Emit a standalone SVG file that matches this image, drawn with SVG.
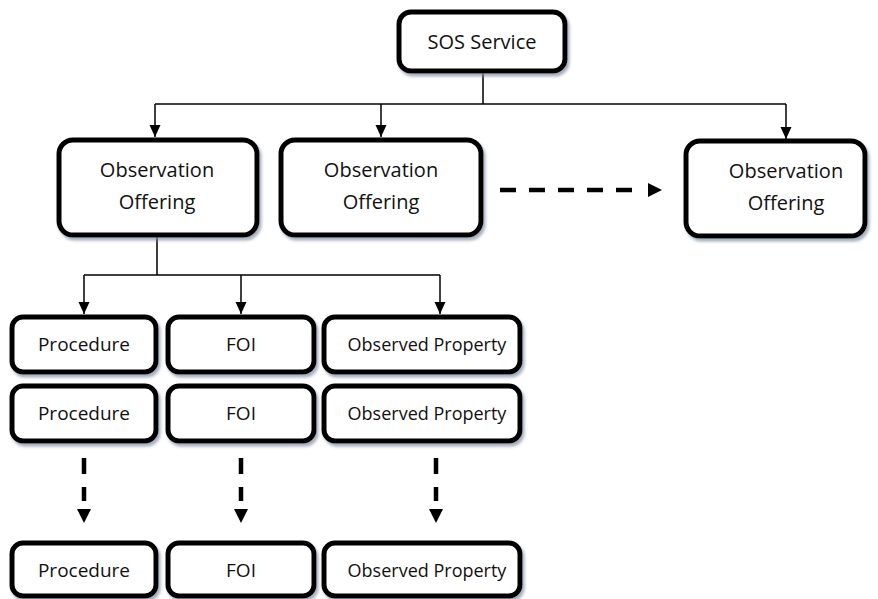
<svg xmlns="http://www.w3.org/2000/svg" width="878" height="599" viewBox="0 0 878 599">
<style>
.box{fill:#fff;stroke:#000;stroke-width:5;filter:url(#sh)}
.t{font-family:"Open Sans","Liberation Sans",sans-serif;font-size:19px;fill:#111;text-anchor:middle}
.big{font-size:20px}
.sm{font-size:18px}
.c{fill:none;stroke:#000;stroke-width:1.5}
.d{fill:none;stroke:#000;stroke-width:4.5;stroke-dasharray:16 13}
</style>
<defs>
<filter id="sh" x="-10%" y="-10%" width="130%" height="140%">
<feDropShadow dx="2" dy="3" stdDeviation="1.5" flood-color="#7d8ba0" flood-opacity="0.7"/>
</filter>
<marker id="a" viewBox="0 -6 12 12" refX="12" refY="0" markerWidth="12" markerHeight="12" markerUnits="userSpaceOnUse" orient="auto">
<path d="M0,-5.5 L12,0 L0,5.5 z" fill="#000"/>
</marker>
<marker id="da" viewBox="0 -8 24 16" refX="0" refY="0" markerWidth="24" markerHeight="16" markerUnits="userSpaceOnUse" orient="auto">
<path d="M8,-7 L22,0 L8,7 z" fill="#000"/>
</marker>
</defs>
<g id="connectors">
<path class="c" d="M483,72 V104 M155,104 H786"/>
<path class="c" marker-end="url(#a)" d="M155,104 V137"/>
<path class="c" marker-end="url(#a)" d="M381,104 V137"/>
<path class="c" marker-end="url(#a)" d="M786,104 V139"/>
<path class="c" d="M157,236 V275 M84,275 H440"/>
<path class="c" marker-end="url(#a)" d="M84,275 V314"/>
<path class="c" marker-end="url(#a)" d="M241,275 V314"/>
<path class="c" marker-end="url(#a)" d="M440,275 V314"/>
<path class="d" marker-end="url(#da)" d="M500,190 H640"/>
<path class="d" marker-end="url(#da)" d="M84,458 V501"/>
<path class="d" marker-end="url(#da)" d="M241,458 V501"/>
<path class="d" marker-end="url(#da)" d="M436,458 V501"/>
</g>
<g id="sos"><rect class="box" x="399" y="12" width="166" height="59" rx="12"/><text class="t big" x="482" y="49">SOS Service</text></g>
<g id="offering1"><rect class="box" x="59" y="140" width="198" height="95" rx="14"/><text class="t big" x="157" y="177">Observation</text><text class="t big" x="157" y="209">Offering</text></g>
<g id="offering2"><rect class="box" x="281" y="140" width="200" height="95" rx="14"/><text class="t big" x="381" y="177">Observation</text><text class="t big" x="381" y="209">Offering</text></g>
<g id="offering3"><rect class="box" x="686" y="141" width="179" height="95" rx="14"/><text class="t big" x="786" y="178">Observation</text><text class="t big" x="786" y="210">Offering</text></g>
<g id="proc1"><rect class="box" x="12" y="317" width="144" height="55" rx="11"/><text class="t" x="84" y="351">Procedure</text></g>
<g id="foi1"><rect class="box" x="168" y="317" width="146" height="55" rx="11"/><text class="t" x="241" y="351">FOI</text></g>
<g id="prop1"><rect class="box" x="324" y="317" width="196" height="55" rx="11"/><text class="t sm" x="427" y="351">Observed Property</text></g>
<g id="proc2"><rect class="box" x="12" y="386" width="144" height="55" rx="11"/><text class="t" x="84" y="420">Procedure</text></g>
<g id="foi2"><rect class="box" x="168" y="386" width="146" height="55" rx="11"/><text class="t" x="241" y="420">FOI</text></g>
<g id="prop2"><rect class="box" x="324" y="386" width="196" height="55" rx="11"/><text class="t sm" x="427" y="420">Observed Property</text></g>
<g id="proc3"><rect class="box" x="12" y="543" width="144" height="53" rx="11"/><text class="t" x="84" y="577">Procedure</text></g>
<g id="foi3"><rect class="box" x="168" y="543" width="146" height="53" rx="11"/><text class="t" x="241" y="577">FOI</text></g>
<g id="prop3"><rect class="box" x="324" y="543" width="196" height="53" rx="11"/><text class="t sm" x="427" y="577">Observed Property</text></g>
</svg>
